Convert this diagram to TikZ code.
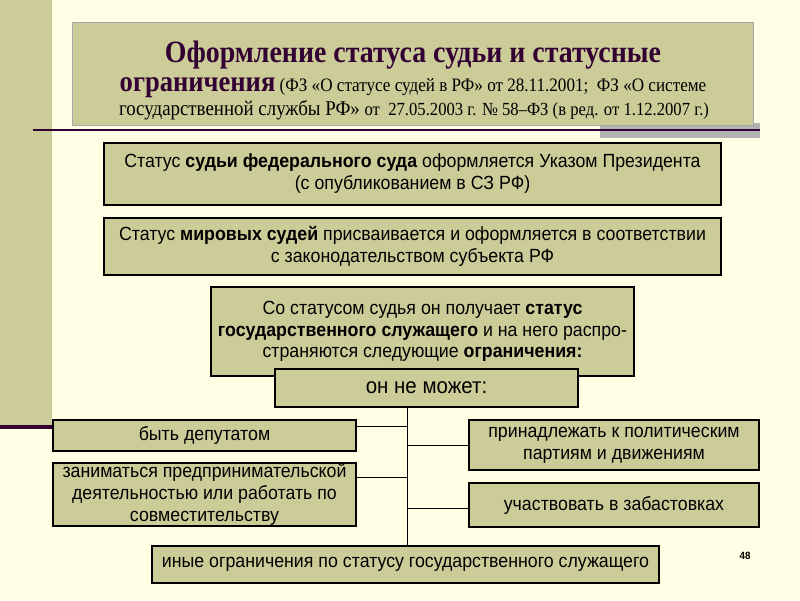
\documentclass[tikz,border=0pt]{standalone}
\usepackage{fontspec}
\setmainfont{Liberation Serif}
\newfontfamily\titleserif[FakeStretch=0.9]{Liberation Serif}
\newfontfamily\arial[FakeStretch=0.93]{Liberation Sans}
\definecolor{bg}{HTML}{FFFFE5}
\definecolor{khaki}{HTML}{CCCC99}
\definecolor{plum}{HTML}{330033}
\definecolor{shadowgray}{HTML}{B2B2B2}
\begin{document}
\begin{tikzpicture}[x=1pt,y=-1pt,
  box/.style={draw=black, line width=1.3pt, fill=khaki, inner sep=0pt, align=center,
    font=\arial\fontsize{19.1}{22}\selectfont},
  conn/.style={draw=black, line width=1pt}]
\fill[bg] (0,0) rectangle (800,600);
\useasboundingbox (0,0) rectangle (800,600);
\fill[khaki] (0,0) rectangle (52,425);
% title
\fill[shadowgray] (600,123) rectangle (760,138);
\node[draw=gray!70, line width=0.6pt, fill=khaki, minimum width=681pt, minimum height=103pt, inner sep=0pt, anchor=north west] (title) at (72,22) {};
\node[anchor=base, text=plum, font=\titleserif\bfseries\fontsize{31}{31}\selectfont] (t1) at (413,62) {Оформление статуса судьи и статусные};
\node[anchor=base, font=\titleserif\fontsize{19}{19}\selectfont] (t2) at (413,91) {{\color{plum}\bfseries\fontsize{29.5}{30}\selectfont ограничения} (ФЗ «О статусе судей в РФ» от 28.11.2001;\ \ ФЗ «О системе};
\node[anchor=base, font=\titleserif\fontsize{21}{21}\selectfont] (t3) at (414,115) {государственной службы РФ» {\fontsize{18.5}{19}\selectfont от\ \ 27.05.2003 г. № 58–ФЗ (в ред. от 1.12.2007 г.)}};
\draw[plum, line width=2pt] (33,130) -- (760,130);
\draw[plum, line width=3.5pt] (0,427) -- (54,427);
% boxes
\node[box, minimum width=617pt, minimum height=62pt] (a) at (412.5,174) {Статус \textbf{судьи федерального суда} оформляется Указом Президента\\(с опубликованием в СЗ РФ)};
\node[box, minimum width=617pt, minimum height=57pt] (b) at (412.5,246.5) {Статус \textbf{мировых судей} присваивается и оформляется в соответствии\\с законодательством субъекта РФ};
\node[box, minimum width=423pt, minimum height=89pt, font=\arial\fontsize{19.1}{21.5}\selectfont] (c) at (422.5,331.5) {Со статусом судья он получает \textbf{статус}\\\textbf{государственного служащего} и на него распро-\\страняются следующие \textbf{ограничения:}};
\node[box, minimum width=303pt, minimum height=38pt, font=\arial\fontsize{22}{22}\selectfont] (d) at (426.5,388) {он не может:};
\node[box, minimum width=303pt, minimum height=31pt] (l1) at (204.5,435.5) {быть депутатом};
\node[box, minimum width=303pt, minimum height=63pt] (l2) at (204.5,494.5) {заниматься предпринимательской\\деятельностью или работать по\\совместительству};
\node[box, minimum width=290pt, minimum height=50pt] (r1) at (614,445) {принадлежать к политическим\\партиям и движениям};
\node[box, minimum width=290pt, minimum height=44pt] (r2) at (614,505) {участвовать в забастовках};
\node[box, minimum width=507pt, minimum height=37pt] (g) at (405.5,564.5) {иные ограничения по статусу государственного служащего};
\node[font=\arial\bfseries\fontsize{10.5}{10.5}\selectfont] (pg) at (745,556) {48};
% connectors
\coordinate (v) at (407,407);
\draw[conn] (v) -- (v |- g.north);
\draw[conn] (l1.east |- 0,426) -- (v |- 0,426);
\draw[conn] (l2.east |- 0,477) -- (v |- 0,477);
\draw[conn] (r1.west) -- (v |- r1.west);
\draw[conn] (r2.west |- 0,508) -- (v |- 0,508);
\end{tikzpicture}
\end{document}
